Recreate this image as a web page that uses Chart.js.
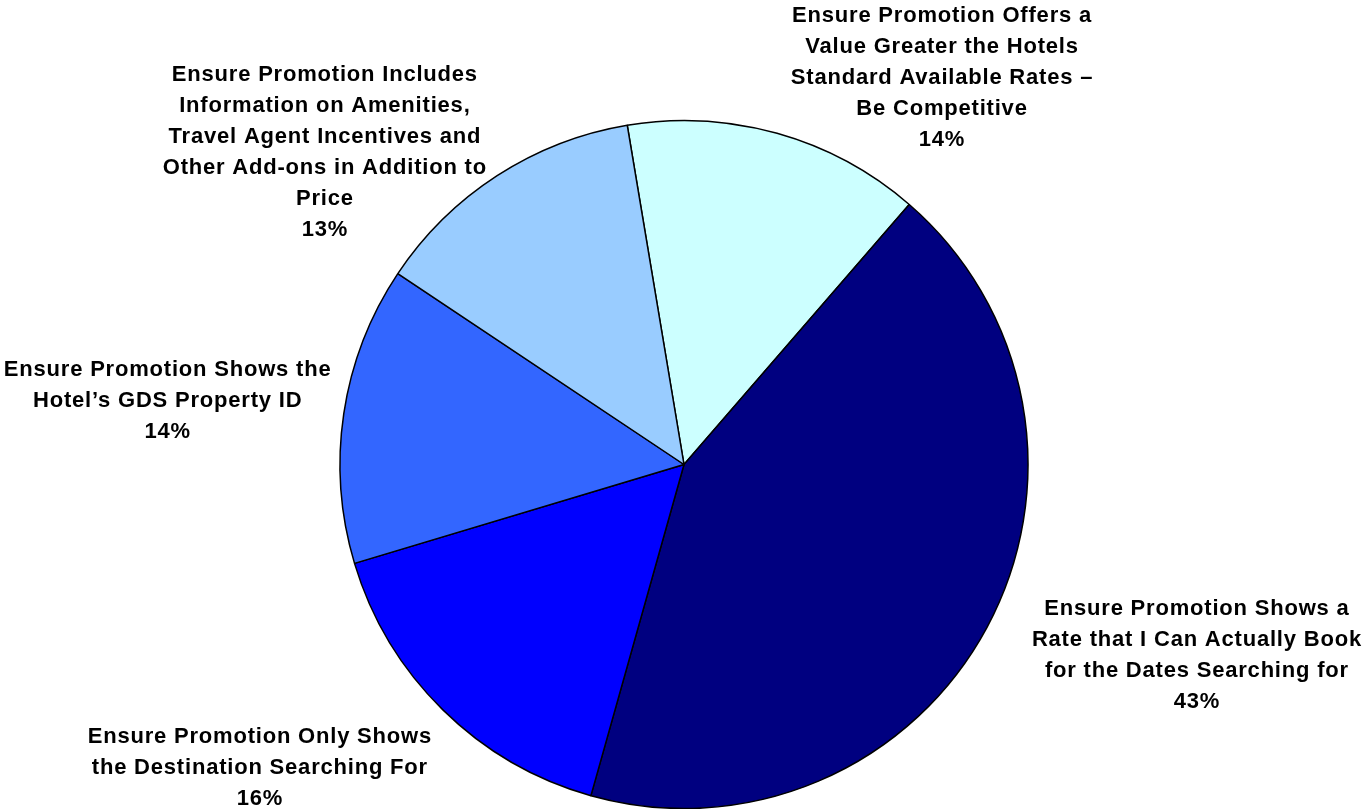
<!DOCTYPE html>
<html>
<head>
<meta charset="utf-8">
<title>Hotel Promotion Priorities</title>
<script src="https://cdn.jsdelivr.net/npm/chart.js@4.4.1/dist/chart.umd.min.js"></script>
<style>
  html, body { margin: 0; padding: 0; background: #fff; overflow: hidden; }
  #wrap { width: 1371px; height: 809px; position: relative; }
</style>
</head>
<body>
<div id="wrap"><canvas id="promoChart"></canvas></div>
<script>
// Slice labels (one entry per line), in drawing order starting near 12 o'clock
const categories = [
  ["Ensure Promotion Offers a", "Value Greater the Hotels", "Standard Available Rates \u2013", "Be Competitive"],
  ["Ensure Promotion Shows a", "Rate that I Can Actually Book", "for the Dates Searching for"],
  ["Ensure Promotion Only Shows", "the Destination Searching For"],
  ["Ensure Promotion Shows the", "Hotel\u2019s GDS Property ID"],
  ["Ensure Promotion Includes", "Information on Amenities,", "Travel Agent Incentives and", "Other Add-ons in Addition to", "Price"],
];
const shares = [14, 43, 16, 14, 13];
const sliceColors = ["#CCFFFF", "#000080", "#0000FF", "#3366FF", "#99CCFF"];

// where each label block sits, as a multiple of the pie radius from its centre
const labelOffsets = [
  [0.750, -1.124],
  [1.491, 0.555],
  [-1.233, 0.882],
  [-1.501, -0.185],
  [-1.044, -0.907],
];

const pieLabels = {
  id: "pieLabels",
  afterDatasetsDraw(chart) {
    const ctx = chart.ctx;
    const meta = chart.getDatasetMeta(0);
    ctx.save();
    ctx.font = "bold 22px 'Liberation Sans', Arial, sans-serif";
    ctx.letterSpacing = "0.8px";
    ctx.fillStyle = "#000";
    ctx.textAlign = "center";
    ctx.textBaseline = "middle";
    const lineH = 31;
    meta.data.forEach((arc, i) => {
      const r = arc.outerRadius;
      const cx = arc.x + labelOffsets[i][0] * r;
      const cy = arc.y + labelOffsets[i][1] * r;
      const lines = categories[i].concat([shares[i] + "%"]);
      const top = cy - (lines.length - 1) * lineH / 2;
      lines.forEach((txt, k) => ctx.fillText(txt, cx, top + k * lineH));
    });
    ctx.restore();
  },
};

new Chart(document.getElementById("promoChart"), {
  type: "pie",
  data: {
    labels: categories.map((c) => c.join(" ")),
    datasets: [
      {
        data: shares,
        backgroundColor: sliceColors,
        borderColor: "#000",
        borderWidth: 1.5,
        clip: false,
      },
    ],
  },
  options: {
    responsive: true,
    maintainAspectRatio: false,
    animation: false,
    rotation: -9.5,
    radius: 344,
    layout: { padding: { top: 120, bottom: 0, left: 0, right: 3 } },
    plugins: {
      legend: { display: false },
      tooltip: { enabled: false },
    },
  },
  plugins: [pieLabels],
});
</script>
</body>
</html>
